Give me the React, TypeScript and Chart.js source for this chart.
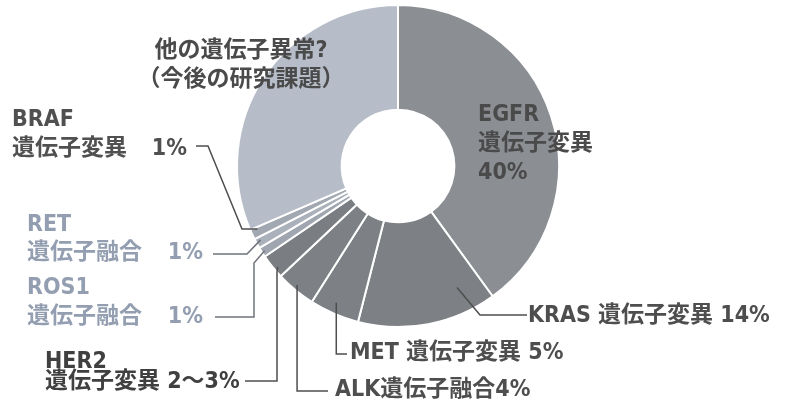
import React, { useEffect, useRef } from "react";
import { Chart, registerables } from "chart.js";

Chart.register(...registerables);

const categories = ["EGFR", "KRAS", "MET", "ALK", "HER2", "ROS1", "RET", "BRAF", "その他"];
const shares = [40, 14, 5, 4, 2.5, 1, 1, 1, 31.5];
const sliceColors = ["#8b8e93", "#7d8084", "#7d8084", "#7d8084", "#7a7d81", "#a0a6af", "#aab1bb", "#a2a8b1", "#b6bdc8"];

const labelLines: string[][] = [
  ["EGFR", "遺伝子変異", "40%"],
  ["KRAS 遺伝子変異 14%"],
  ["MET 遺伝子変異 5%"],
  ["ALK遺伝子融合4%"],
  ["HER2", "遺伝子変異 2～3%"],
  ["ROS1", "遺伝子融合"],
  ["RET", "遺伝子融合"],
  ["BRAF", "遺伝子変異"],
  ["他の遺伝子異常?", "（今後の研究課題）"],
];
const pctTags = ["", "", "", "", "", "1%", "1%", "1%", ""];

const FONT = "'DejaVu Sans Condensed', 'Noto Sans CJK JP', sans-serif";
const DARK = "#4e4e4e";
const LIGHT = "#939eb1";

// layout: [textX, firstLineY, lineGap, align, color, weight, pctRightX]
const textLayout: any[] = [
  [478, 115, 29, "left", "#4a4a4a", "bold", 0],
  [528, 316, 0, "left", DARK, "bold", 0],
  [350, 353, 0, "left", DARK, "bold", 0],
  [335, 390, 0, "left", DARK, "bold", 0],
  [45, 362, 20, "left", "#404040", "bold", 0],
  [27, 288, 29, "left", LIGHT, "bold", 203],
  [27, 225, 28, "left", LIGHT, "bold", 203],
  [12, 120, 29, "left", "#505050", "bold", 187],
  [241, 51, 29, "center", "#4a4a4a", "bold", 0],
];

// leader lines: [index, angleFraction, radius, points (null = anchor coord)]
const leaders: any[] = [
  [1, 0.2, 135, [[480, 315], [527, 315]], DARK],
  [2, 0.55, 150, [[null, 354], [347, 354]], DARK],
  [3, 0.55, 156, [[null, 391], [328, 391]], DARK],
  [4, 0.36, 157, [[277, 272], [277, 381], [245, 381]], DARK],
  [5, 0.5, 158, [[254, 263], [254, 317], [215, 317]], "#6f737a"],
  [6, 0.65, 156, [[247, 254], [213, 254]], "#6f737a"],
  [7, 0.8, 154, [[242, 229], [208, 146], [196, 146]], DARK],
];

const labelPlugin = {
  id: "labelPlugin",
  afterDraw(chart: any) {
    const ctx = chart.ctx;
    const arcs = chart.getDatasetMeta(0).data;
    ctx.save();
    ctx.lineWidth = 1.5;
    leaders.forEach(([idx, frac, r, pts, col]) => {
      const a = arcs[idx];
      const ang = a.startAngle + (a.endAngle - a.startAngle) * frac;
      const ax = a.x + r * Math.cos(ang);
      const ay = a.y + r * Math.sin(ang);
      ctx.strokeStyle = col;
      ctx.beginPath();
      ctx.moveTo(ax, ay);
      pts.forEach((p: any) => ctx.lineTo(p[0] === null ? ax : p[0], p[1] === null ? ay : p[1]));
      ctx.stroke();
    });
    ctx.textBaseline = "middle";
    labelLines.forEach((lines, i) => {
      const [x, y, gap, align, color, weight, pctX] = textLayout[i];
      ctx.fillStyle = color;
      ctx.font = `${weight} 23px ${FONT}`;
      ctx.textAlign = align;
      lines.forEach((t, k) => ctx.fillText(t, x, y + k * gap));
      if (pctTags[i]) {
        ctx.textAlign = "right";
        ctx.fillText(pctTags[i], pctX, y + (lines.length - 1) * gap);
      }
    });
    ctx.restore();
  },
};

export default function App() {
  const ref = useRef<HTMLCanvasElement>(null);
  useEffect(() => {
    const chart = new Chart(ref.current!, {
      type: "doughnut",
      data: {
        labels: categories,
        datasets: [
          {
            data: shares,
            backgroundColor: sliceColors,
            borderColor: "#ffffff",
            borderWidth: 2,
            radius: 161,
            cutout: "35%",
          } as any,
        ],
      },
      options: {
        animation: false,
        responsive: false,
        events: [],
        layout: { padding: { left: 11, right: 0, top: 0, bottom: 75 } },
        plugins: { legend: { display: false }, tooltip: { enabled: false } },
      },
      plugins: [labelPlugin],
    });
    return () => chart.destroy();
  }, []);
  return (
    <div style={{ position: "fixed", left: 0, top: 0, width: 785, height: 407, background: "#fff" }}>
      <canvas ref={ref} width={785} height={407} style={{ width: 785, height: 407 }} />
    </div>
  );
}
